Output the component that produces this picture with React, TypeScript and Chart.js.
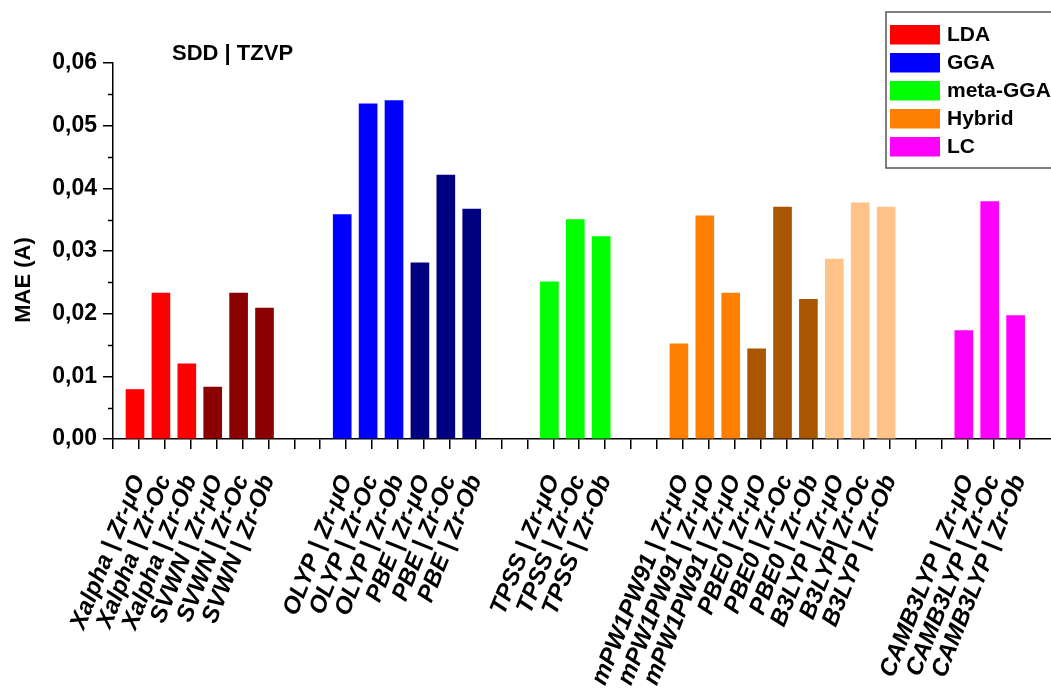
import { useEffect, useRef } from 'react';
import { Chart, registerables } from 'chart.js';

Chart.register(...registerables);

// Mean absolute errors (Å) of Zr–O bond lengths, SDD | TZVP basis
const ldaLabels = ['Xalpha | Zr-μO', 'Xalpha | Zr-Oc', 'Xalpha | Zr-Ob', 'SVWN | Zr-μO', 'SVWN | Zr-Oc', 'SVWN | Zr-Ob'];
const ldaValues = [0.0079, 0.0233, 0.012, 0.0083, 0.0233, 0.0209];

const ggaLabels = ['OLYP | Zr-μO', 'OLYP | Zr-Oc', 'OLYP | Zr-Ob', 'PBE | Zr-μO', 'PBE | Zr-Oc', 'PBE | Zr-Ob'];
const ggaValues = [0.0358, 0.0535, 0.054, 0.0281, 0.0421, 0.0367];

const metaLabels = ['TPSS | Zr-μO', 'TPSS | Zr-Oc', 'TPSS | Zr-Ob'];
const metaValues = [0.0251, 0.035, 0.0323];

const hybridLabels = [
  'mPW1PW91 | Zr-μO', 'mPW1PW91 | Zr-μO', 'mPW1PW91 | Zr-μO',
  'PBE0 | Zr-μO', 'PBE0 | Zr-Oc', 'PBE0 | Zr-Ob',
  'B3LYP | Zr-μO', 'B3LYP| Zr-Oc', 'B3LYP | Zr-Ob',
];
const hybridValues = [0.0152, 0.0356, 0.0233, 0.0144, 0.037, 0.0223, 0.0287, 0.0377, 0.037];

const lcLabels = ['CAMB3LYP | Zr-μO', 'CAMB3LYP | Zr-Oc', 'CAMB3LYP | Zr-Ob'];
const lcValues = [0.0173, 0.0379, 0.0197];

const familyNames = ['LDA', 'GGA', 'meta-GGA', 'Hybrid', 'LC'];
const yTickValues = [0, 0.01, 0.02, 0.03, 0.04, 0.05, 0.06];

// bar colours, one shade per functional
const RED = '#ff0000', DARK_RED = '#8b0000';
const BLUE = '#0000ff', NAVY = '#000080';
const GREEN = '#00ff00';
const ORANGE = '#ff8000', BROWN = '#aa5500', PEACH = '#ffc388';
const MAGENTA = '#ff00ff';

const ldaColors = [RED, RED, RED, DARK_RED, DARK_RED, DARK_RED];
const ggaColors = [BLUE, BLUE, BLUE, NAVY, NAVY, NAVY];
const metaColors = [GREEN, GREEN, GREEN];
const hybridColors = [ORANGE, ORANGE, ORANGE, BROWN, BROWN, BROWN, PEACH, PEACH, PEACH];
const lcColors = [MAGENTA, MAGENTA, MAGENTA];

const GAP_SLOTS = 2; // empty category slots between families
const BAR_SHIFT = -0.15; // bars sit slightly left of their tick marks
const FONT = '"Liberation Sans", Arial, Helvetica, sans-serif';

const groups = [
  { names: ldaLabels, values: ldaValues, colors: ldaColors },
  { names: ggaLabels, values: ggaValues, colors: ggaColors },
  { names: metaLabels, values: metaValues, colors: metaColors },
  { names: hybridLabels, values: hybridValues, colors: hybridColors },
  { names: lcLabels, values: lcValues, colors: lcColors },
];

function buildData() {
  const slotLabels: string[] = [''];
  let slot = 1;
  const datasets = groups.map((g, gi) => {
    if (gi > 0) {
      for (let k = 0; k < GAP_SLOTS; k++) slotLabels.push('');
      slot += GAP_SLOTS;
    }
    const data = g.values.map((v, i) => {
      slotLabels.push(g.names[i]);
      const point = { x: slot + BAR_SHIFT, y: v };
      slot += 1;
      return point;
    });
    return {
      label: familyNames[gi],
      data,
      backgroundColor: g.colors,
      borderWidth: 0,
      barThickness: 18,
      grouped: false,
    };
  });
  return { slotLabels, datasets };
}

const decorations = {
  id: 'decorations',
  afterDraw(chart: any) {
    const { ctx, chartArea } = chart;
    const yScale = chart.scales.y;
    ctx.save();

    // minor y ticks
    ctx.strokeStyle = '#000';
    ctx.lineWidth = 1.5;
    for (let i = 0; i < yTickValues.length - 1; i++) {
      const v = (yTickValues[i] + yTickValues[i + 1]) / 2;
      const py = Math.round(yScale.getPixelForValue(v)) + 0.5;
      ctx.beginPath();
      ctx.moveTo(chartArea.left - 5, py);
      ctx.lineTo(chartArea.left, py);
      ctx.stroke();
    }

    // panel title
    ctx.fillStyle = '#000';
    ctx.font = `bold 22px ${FONT}`;
    ctx.textAlign = 'left';
    ctx.textBaseline = 'middle';
    ctx.fillText('SDD | TZVP', 172, 54);

    // y axis title
    ctx.save();
    ctx.translate(24, 280);
    ctx.rotate(-Math.PI / 2);
    ctx.textAlign = 'center';
    ctx.textBaseline = 'middle';
    ctx.font = `bold 22px ${FONT}`;
    ctx.fillText('MAE (A)', 0, 0);
    ctx.restore();

    // legend
    const lx = 886, ly = 12, rowH = 28;
    ctx.strokeStyle = '#555';
    ctx.lineWidth = 1.5;
    ctx.strokeRect(lx, ly, 300, 156);
    chart.data.datasets.forEach((ds: any, i: number) => {
      const top = ly + 13 + i * rowH;
      ctx.fillStyle = ds.backgroundColor[0];
      ctx.fillRect(lx + 4, top, 50, 19.5);
      ctx.fillStyle = '#000';
      ctx.font = `bold 21px ${FONT}`;
      ctx.textAlign = 'left';
      ctx.textBaseline = 'middle';
      ctx.fillText(ds.label, lx + 61, top + 10.5);
    });
    ctx.restore();
  },
};

export default function App() {
  const canvasRef = useRef<HTMLCanvasElement | null>(null);

  useEffect(() => {
    const canvas = canvasRef.current;
    if (!canvas) return;
    const { slotLabels, datasets } = buildData();
    const plotLeft = 113;
    const plotBottom = 439;
    const slotPx = 25.9;
    const xMax = (1051 - plotLeft) / slotPx;

    const chart = new Chart(canvas, {
      type: 'bar',
      data: { datasets: datasets as any },
      options: {
        responsive: false,
        animation: false,
        devicePixelRatio: 1,
        layout: { padding: { left: 0, right: 0, top: 63, bottom: 0 } },
        plugins: {
          legend: { display: false },
          title: { display: false },
          tooltip: { enabled: false },
        },
        scales: {
          x: {
            type: 'linear',
            min: 0,
            max: xMax,
            offset: false,
            afterFit: (scale: any) => {
              scale.height = 698 - plotBottom;
              scale.paddingLeft = 0;
              scale.paddingRight = 0;
            },
            grid: {
              display: true,
              offset: false,
              drawOnChartArea: false,
              drawTicks: true,
              tickLength: 10,
              lineWidth: 1.5,
              color: (c: any) => (c.tick && Number.isInteger(c.tick.value) ? '#000' : 'rgba(0,0,0,0)'),
            },
            border: { display: true, color: '#000', width: 1.5 },
            ticks: {
              stepSize: 1,
              autoSkip: false,
              minRotation: 68,
              maxRotation: 68,
              padding: 22,
              color: '#000',
              font: { family: FONT, size: 24, weight: 'bold', style: 'italic' },
              callback: (value: any) => (Number.isInteger(value) ? slotLabels[value] ?? '' : ''),
            },
          },
          y: {
            min: 0,
            max: 0.06,
            afterFit: (scale: any) => {
              scale.width = plotLeft;
            },
            grid: {
              display: true,
              drawOnChartArea: false,
              drawTicks: true,
              tickLength: 10,
              lineWidth: 1.5,
              color: (c: any) => {
                const v = c.tick ? c.tick.value : 0;
                return Math.round(v * 1000) % 10 === 0 ? '#000' : 'rgba(0,0,0,0)';
              },
            },
            border: { display: true, color: '#000', width: 1.5 },
            ticks: {
              stepSize: 0.005,
              padding: 6,
              color: '#000',
              font: { family: FONT, size: 23, weight: 'bold' },
              callback: (value: any) => {
                const v = Number(value);
                return Math.round(v * 1000) % 10 === 0 ? v.toFixed(2).replace('.', ',') : '';
              },
            },
          },
        },
      },
      plugins: [decorations],
    });
    return () => chart.destroy();
  }, []);

  return (
    <div style={{ position: 'fixed', left: 0, top: 0, width: 1051, height: 698, overflow: 'hidden', background: '#fff' }}>
      <canvas ref={canvasRef} width={1051} height={698} style={{ display: 'block' }} />
    </div>
  );
}
